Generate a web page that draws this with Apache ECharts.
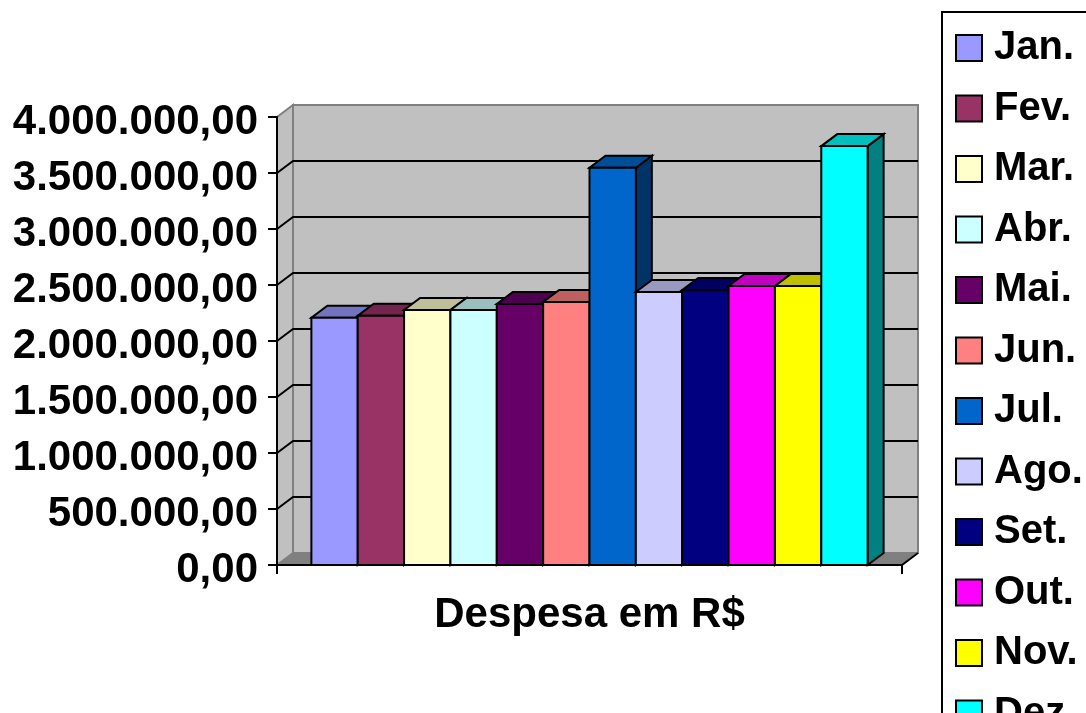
<!DOCTYPE html>
<html>
<head>
<meta charset="utf-8">
<script src="https://cdn.jsdelivr.net/npm/echarts@6/dist/echarts.min.js"></script>
<style>
  html, body { margin: 0; padding: 0; background: #fff; }
  #chart { width: 1086px; height: 713px; }
</style>
</head>
<body>
<div id="chart"></div>
<script>
// dados
const categories = ['Despesa em R$'];
const months = ['Jan.', 'Fev.', 'Mar.', 'Abr.', 'Mai.', 'Jun.', 'Jul.', 'Ago.', 'Set.', 'Out.', 'Nov.', 'Dez.'];
const values = [2208000, 2226000, 2277000, 2277000, 2330000, 2348000, 3547000, 2437000, 2455000, 2491000, 2491000, 3740000];
const colors = ['#9999FF', '#993366', '#FFFFCC', '#CCFFFF', '#660066', '#FF8080', '#0066CC', '#CCCCFF', '#000080', '#FF00FF', '#FFFF00', '#00FFFF'];
const yGridValues = [500000, 1000000, 1500000, 2000000, 2500000, 3000000, 3500000];
const Y_MAX = 4000000;

const DX = 16;      // profundidade 3D
const DY = 12;
const GROUP = 0.89; // largura do grupo de barras dentro da categoria
const FONT = '"Liberation Sans", Arial, sans-serif';

function shade(hex, f) {
  const n = parseInt(hex.slice(1), 16);
  const r = Math.round(((n >> 16) & 255) * f);
  const g = Math.round(((n >> 8) & 255) * f);
  const b = Math.round((n & 255) * f);
  return 'rgb(' + r + ',' + g + ',' + b + ')';
}

function fmtBR(v) {
  return '{v|' + Math.round(v).toString().replace(/\B(?=(\d{3})+(?!\d))/g, '.') + ',00}';
}

function frame(api) {
  const c0 = api.coord([0, 0]);
  const band = api.size([1, 0])[0];
  return { x0: c0[0] - band / 2, x1: c0[0] + band / 2, yb: c0[1], band: band };
}

// paredes e piso
const wallSeries = {
  type: 'custom',
  name: 'parede',
  silent: true,
  data: [[0, Y_MAX]],
  encode: { x: 0, y: 1 },
  renderItem: function (params, api) {
    const f = frame(api);
    const yt = api.coord([0, Y_MAX])[1];
    return {
      type: 'group',
      children: [
        { type: 'polygon', shape: { points: [[f.x0, f.yb], [f.x0, yt], [f.x0 + DX, yt - DY], [f.x0 + DX, f.yb - DY]] },
          style: { fill: '#C0C0C0', stroke: '#808080', lineWidth: 2 } },
        { type: 'rect', shape: { x: f.x0 + DX, y: yt - DY, width: f.band, height: f.yb - yt },
          style: { fill: '#C0C0C0', stroke: '#808080', lineWidth: 2 } },
        { type: 'polygon', shape: { points: [[f.x0, f.yb], [f.x1, f.yb], [f.x1 + DX, f.yb - DY], [f.x0 + DX, f.yb - DY]] },
          style: { fill: '#808080', stroke: '#808080', lineWidth: 1 } },
        { type: 'line', shape: { x1: f.x1, y1: f.yb, x2: f.x1 + DX, y2: f.yb - DY },
          style: { stroke: '#000', lineWidth: 2 } }
      ]
    };
  }
};

// linhas de grade na parede
const gridSeries = {
  type: 'custom',
  name: 'grade',
  silent: true,
  data: yGridValues.map(v => [0, v]),
  encode: { x: 0, y: 1 },
  renderItem: function (params, api) {
    const f = frame(api);
    const y = api.coord([0, api.value(1)])[1];
    return {
      type: 'polyline',
      shape: { points: [[f.x0, y], [f.x0 + DX, y - DY], [f.x1 + DX, y - DY]] },
      style: { stroke: '#000', lineWidth: 2, fill: null }
    };
  }
};

const barSeries = months.map((m, i) => ({
  type: 'custom',
  name: m,
  itemStyle: { color: colors[i] },
  data: [[0, values[i]]],
  encode: { x: 0, y: 1 },
  renderItem: function (params, api) {
    const f = frame(api);
    const top = api.coord([0, api.value(1)])[1];
    const gw = f.band * GROUP;
    const bw = gw / months.length;
    const xl = (f.x0 + f.x1) / 2 - gw / 2 + i * bw;
    const xr = xl + bw;
    const line = { stroke: '#000', lineWidth: 2, lineJoin: 'miter' };
    return {
      type: 'group',
      children: [
        { type: 'polygon', shape: { points: [[xr, top], [xr + DX, top - DY], [xr + DX, f.yb - DY], [xr, f.yb]] },
          style: Object.assign({ fill: shade(colors[i], 0.5) }, line) },
        { type: 'polygon', shape: { points: [[xl, top], [xr, top], [xr + DX, top - DY], [xl + DX, top - DY]] },
          style: Object.assign({ fill: shade(colors[i], 0.75) }, line) },
        { type: 'rect', shape: { x: xl, y: top, width: bw, height: f.yb - top },
          style: Object.assign({ fill: colors[i] }, line) }
      ]
    };
  }
}));

const chart = echarts.init(document.getElementById('chart'));
chart.setOption({
  animation: false,
  backgroundColor: '#fff',
  grid: { left: 277, right: 184, top: 117, bottom: 148 },
  xAxis: {
    type: 'category',
    data: categories,
    z: 10,
    axisLine: { lineStyle: { color: '#000', width: 2 } },
    axisTick: { show: true, length: 9, lineStyle: { color: '#000', width: 2 } },
    axisLabel: { color: '#000', fontFamily: FONT, fontWeight: 'bold', fontSize: 42, margin: 29 },
    splitLine: { show: false }
  },
  yAxis: {
    type: 'value',
    min: 0,
    max: Y_MAX,
    interval: 500000,
    z: 10,
    axisLine: { show: true, lineStyle: { color: '#000', width: 2 } },
    axisTick: { show: true, length: 9, lineStyle: { color: '#000', width: 2 } },
    axisLabel: {
      color: '#000', fontFamily: FONT, fontWeight: 'bold', fontSize: 42, margin: 19,
      formatter: fmtBR,
      rich: { v: { color: '#000', fontFamily: FONT, fontWeight: 'bold', fontSize: 42, padding: [10, 0, 0, 0] } }
    },
    splitLine: { show: false }
  },
  legend: {
    orient: 'vertical',
    left: 942,
    top: 12,
    height: 900,
    padding: [16, 30, 19, 13],
    borderColor: '#000',
    borderWidth: 2,
    icon: 'rect',
    itemWidth: 26,
    itemHeight: 26,
    itemGap: 20.5,
    itemStyle: { borderColor: '#000', borderWidth: 2 },
    textStyle: { color: '#000', fontFamily: FONT, fontWeight: 'bold', fontSize: 40, padding: [0, 0, 0, 7] },
    data: months
  },
  series: [wallSeries, gridSeries].concat(barSeries)
});
</script>
</body>
</html>
